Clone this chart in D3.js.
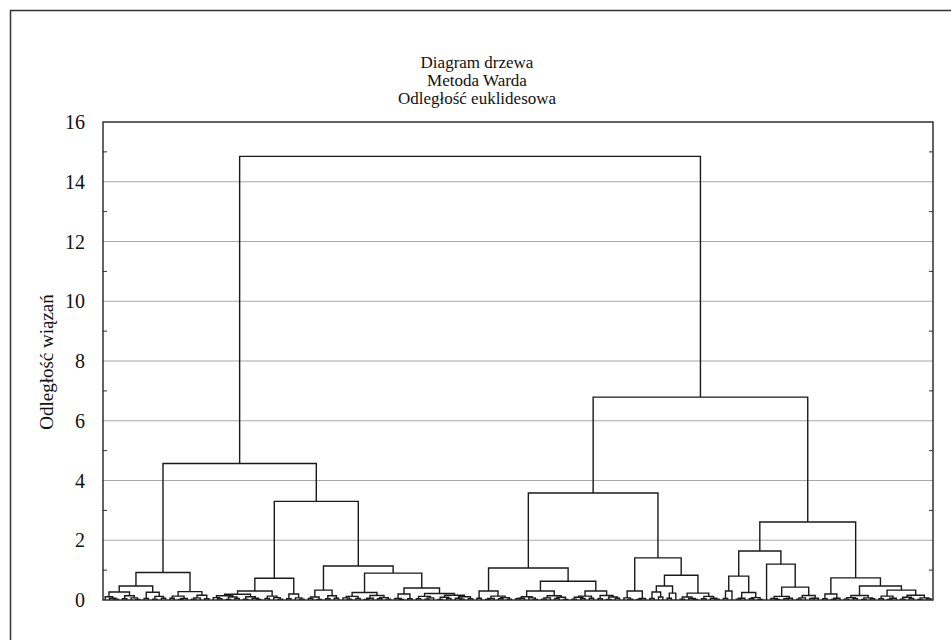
<!DOCTYPE html>
<html>
<head>
<meta charset="utf-8">
<script src="https://cdn.jsdelivr.net/npm/d3@7"></script>
<style>
  body { margin: 0; background: #fff; }
  svg text { font-family: "Liberation Serif", "Times New Roman", serif; fill: #111; }
</style>
</head>
<body>
<svg id="chart" width="951" height="640"></svg>
<script>
// title lines and axis
var titleLines = ["Diagram drzewa", "Metoda Warda", "Odległość euklidesowa"];
var yLabel = "Odległość wiązań";
var yTicks = [0, 2, 4, 6, 8, 10, 12, 14, 16];
var yMinorTicks = [1, 3, 5, 7, 9, 11, 13, 15];

// lowest clusters, written as (left,right)height, x = one object
var bottomGroups = [
	["A1a", "((x,(x,(x,x)0.03)0.06)0.11,((x,x)0.04,(x,(x,x)0.02)0.07)0.14)0.27"],
	["A1b", "((x,x)0.05,((x,x)0.03,(x,x)0.06)0.12)0.26"],
	["A2",  "(((x,x)0.06,((x,x)0.02,x)0.05)0.13,(((x,x)0.03,x)0.07,(x,x)0.04)0.16)0.28"],
	["B1a", "((((x,(x,x)0.04)0.08,((x,x)0.02,(x,x)0.05)0.1)0.14,((x,x)0.03,(x,(x,x)0.02)0.06)0.11)0.19,((x,x)0.05,(x,(x,x)0.03)0.08)0.13)0.3"],
	["B1b", "((x,x)0.04,(x,(x,x)0.03)0.07)0.2"],
	["B2a", "(((x,x)0.05,(x,x)0.02)0.1,((x,x)0.04,(x,x)0.06)0.14)0.33"],
	["B2bL", "(((x,(x,x)0.03)0.07,(x,x)0.05)0.12,(((x,x)0.02,x)0.06,((x,x)0.04,(x,x)0.03)0.08)0.15)0.25"],
	["B2bRL", "((x,(x,x)0.02)0.05,(x,x)0.04)0.2"],
	["B2bRR", "(((x,x)0.04,((x,x)0.03,x)0.07)0.12,(((x,x)0.02,(x,x)0.05)0.09,((x,(x,x)0.03)0.06,(x,x)0.04)0.11)0.16)0.22"],
	["C1a", "((x,x)0.06,(((x,x)0.02,x)0.05,((x,x)0.04,(x,x)0.03)0.08)0.13)0.3"],
	["C1bL", "((((x,x)0.04,x)0.06,(x,(x,x)0.02)0.07)0.11,(((x,x)0.03,x)0.07,((x,x)0.05,(x,x)0.02)0.09)0.14)0.3"],
	["C1bR", "((((x,x)0.03,(x,x)0.05)0.09,(x,x)0.06)0.13,((x,x)0.04,((x,x)0.02,(x,x)0.06)0.1)0.15)0.3"],
	["C2a", "((x,(x,x)0.03)0.07,((x,x)0.02,x)0.05)0.3"],
	["C2bL", "(((x,x)0.05,(x,x)0.1)0.27,((x,x)0.06,x)0.23)0.47"],
	["C2bR", "(((x,x)0.03,(x,(x,x)0.02)0.05)0.1,((x,x)0.04,(x,(x,x)0.03)0.06)0.12)0.23"],
	["D1aL", "((x,x)0.05,x)0.3"],
	["D1aR", "(((x,x)0.03,x)0.06,((x,x)0.04,(x,x)0.02)0.08)0.25"],
	["D1bL", "x"],
	["D1bR", "(((x,(x,x)0.02)0.05,((x,x)0.04,x)0.06)0.12,(((x,x)0.03,x)0.07,((x,x)0.05,x)0.06)0.15)0.43"],
	["D2L", "((x,x)0.04,((x,x)0.02,x)0.06)0.2"],
	["D2RL", "(((x,x)0.03,(x,x)0.05)0.08,((x,x)0.02,(x,x)0.04)0.07)0.15"],
	["D2RR", "(((x,x)0.04,((x,x)0.02,x)0.06)0.13,(((x,x)0.03,(x,x)0.05)0.09,((x,x)0.02,(x,x)0.04)0.07)0.16)0.33"]
];

// upper merges: name, left, right, linkage distance
var merges = [
	["A1", "A1a", "A1b", 0.47],
	["A", "A1", "A2", 0.92],
	["B1", "B1a", "B1b", 0.73],
	["B2bR", "B2bRL", "B2bRR", 0.4],
	["B2b", "B2bL", "B2bR", 0.9],
	["B2", "B2a", "B2b", 1.14],
	["B", "B1", "B2", 3.3],
	["L", "A", "B", 4.57],
	["C1b", "C1bL", "C1bR", 0.63],
	["C1", "C1a", "C1b", 1.07],
	["C2b", "C2bL", "C2bR", 0.83],
	["C2", "C2a", "C2b", 1.41],
	["C", "C1", "C2", 3.58],
	["D1a", "D1aL", "D1aR", 0.8],
	["D1b", "D1bL", "D1bR", 1.2],
	["D1", "D1a", "D1b", 1.64],
	["D2R", "D2RL", "D2RR", 0.47],
	["D2", "D2L", "D2R", 0.74],
	["D", "D1", "D2", 2.61],
	["R", "C", "D", 6.79],
	["root", "L", "R", 14.85]
];

function parseTree(s){
	var i = 0;
	function node(){
		if (s[i] == "("){
			i++;
			var l = node();
			i++; // ,
			var r = node();
			i++; // )
			var m = s.slice(i).match(/^[0-9.]+/);
			i += m[0].length;
			return {h: +m[0], children: [l, r]};
		}
		i++;
		return {h: 0};
	}
	return node();
}

var svg = d3.select("#chart");
var M = {left: 103, right: 933, top: 122, bottom: 600};

// outer frame (runs off the picture on right and bottom)
svg.append("rect")
	.attr("x", 10.5).attr("y", 10.5)
	.attr("width", 960).attr("height", 660)
	.attr("fill", "none")
	.attr("stroke", "#333")
	.attr("stroke-width", 1.5);

// titles
svg.selectAll(".title")
	.data(titleLines)
	.enter()
	.append("text")
	.attr("class", "title")
	.attr("x", 477)
	.attr("y", function(d, i){ return 68 + i*18; })
	.attr("text-anchor", "middle")
	.style("font-size", "17px")
	.text(function(d){ return d; });

var y = d3.scaleLinear().domain([0, 16]).range([M.bottom, M.top]);

// grid
svg.selectAll(".grid")
	.data(yTicks.filter(function(d){ return d > 0 && d < 16; }))
	.enter()
	.append("line")
	.attr("x1", M.left).attr("x2", M.right)
	.attr("y1", function(d){ return y(d); })
	.attr("y2", function(d){ return y(d); })
	.attr("stroke", "#a8a8a8")
	.attr("stroke-width", 1.2);

// minor ticks, left and right, pointing inward
[[M.left, 4], [M.right, -4]].forEach(function(s){
	svg.selectAll(null)
		.data(yMinorTicks)
		.enter()
		.append("line")
		.attr("x1", s[0]).attr("x2", s[0] + s[1])
		.attr("y1", function(d){ return y(d); })
		.attr("y2", function(d){ return y(d); })
		.attr("stroke", "#333")
		.attr("stroke-width", 1);
});

// tick labels
svg.selectAll(".ylab")
	.data(yTicks)
	.enter()
	.append("text")
	.attr("x", 85)
	.attr("y", function(d){ return y(d) + 7; })
	.attr("text-anchor", "end")
	.style("font-size", "20px")
	.text(function(d){ return d; });

svg.append("text")
	.attr("transform", "translate(53,362) rotate(-90)")
	.attr("text-anchor", "middle")
	.style("font-size", "19px")
	.text(yLabel);

// build the tree
var nodes = {};
bottomGroups.forEach(function(g){ nodes[g[0]] = parseTree(g[1]); });
merges.forEach(function(m){
	nodes[m[0]] = {h: m[3], children: [nodes[m[1]], nodes[m[2]]]};
});
var root = d3.hierarchy(nodes["root"]);
var leaves = root.leaves();
leaves.forEach(function(d, i){ d.data.id = i; });

var x = d3.scalePoint()
	.domain(leaves.map(function(d){ return d.data.id; }))
	.range([M.left, M.right])
	.padding(0.5);

root.eachAfter(function(n){
	n.px = n.children ? d3.mean(n.children, function(c){ return c.px; }) : x(n.data.id);
});

svg.append("g")
	.selectAll("path")
	.data(root.descendants().filter(function(n){ return n.children; }))
	.enter()
	.append("path")
	.attr("fill", "none")
	.attr("stroke", "#1a1a1a")
	.attr("stroke-width", 1.4)
	.attr("d", function(n){
		var a = n.children[0], b = n.children[1];
		return "M" + a.px + "," + y(a.data.h) +
			"V" + y(n.data.h) +
			"H" + b.px +
			"V" + y(b.data.h);
	});

// plot frame
svg.append("rect")
	.attr("x", M.left).attr("y", M.top)
	.attr("width", M.right - M.left).attr("height", M.bottom - M.top)
	.attr("fill", "none")
	.attr("stroke", "#222")
	.attr("stroke-width", 1.4);
</script>
</body>
</html>
